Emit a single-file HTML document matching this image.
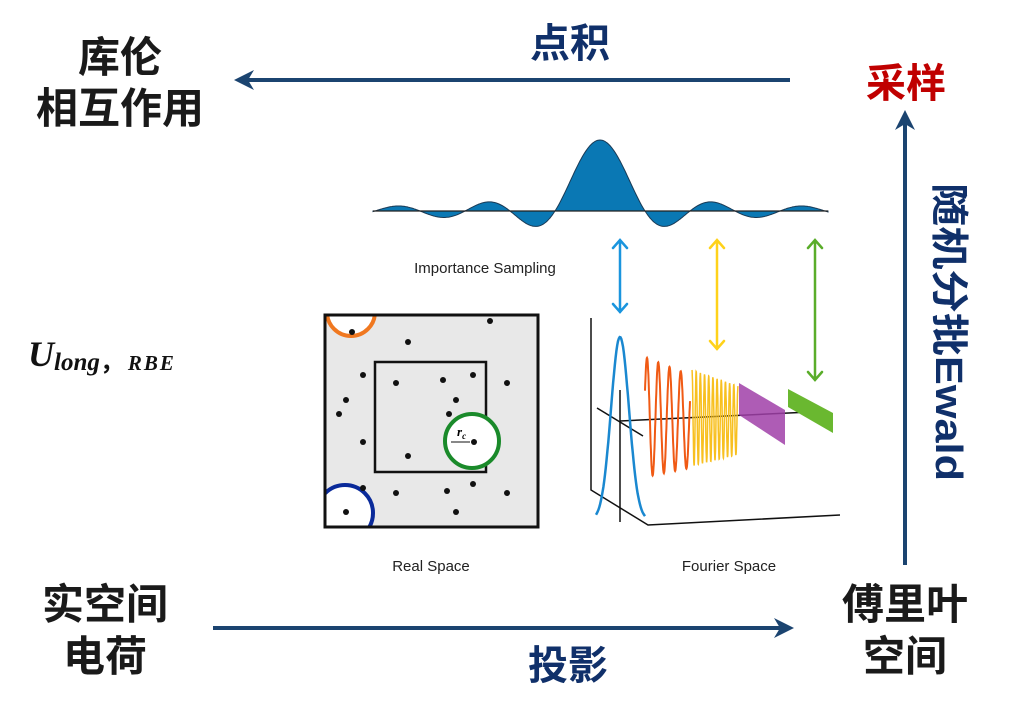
<!DOCTYPE html>
<html><head><meta charset="utf-8"><style>
html,body{margin:0;padding:0;background:#fff;}
svg{display:block}
.cjk{font-family:"Liberation Sans","Noto Sans CJK SC",sans-serif;font-weight:bold;}
.lab{font-family:"Liberation Sans","DejaVu Sans",sans-serif;font-size:15px;fill:#222;}
</style></head><body>
<svg id="s" width="1024" height="714" viewBox="0 0 1024 714" xmlns="http://www.w3.org/2000/svg">
<defs>
<marker id="ah" viewBox="0 0 10 10" refX="8" refY="5" markerWidth="5" markerHeight="5" orient="auto-start-reverse"><path d="M0,0 L10,5 L0,10 L3,5z" fill="#1b4470"/></marker>
<clipPath id="box"><rect x="325" y="315" width="213" height="212"/></clipPath>
</defs>
<text class="cjk" x="120" y="72" font-size="42" text-anchor="middle" fill="#1a1a1a">库伦</text>
<text class="cjk" x="120" y="123" font-size="42" text-anchor="middle" fill="#1a1a1a">相互作用</text>
<text class="cjk" x="570" y="57" font-size="40" text-anchor="middle" fill="#10306a">点积</text>
<text class="cjk" x="906" y="97" font-size="40" text-anchor="middle" fill="#c00000">采样</text>
<text class="cjk" x="105" y="619" font-size="42" text-anchor="middle" fill="#1a1a1a">实空间</text>
<text class="cjk" x="105" y="671" font-size="42" text-anchor="middle" fill="#1a1a1a">电荷</text>
<text class="cjk" x="568" y="679" font-size="40" text-anchor="middle" fill="#10306a">投影</text>
<text class="cjk" x="905" y="619" font-size="42" text-anchor="middle" fill="#1a1a1a">傅里叶</text>
<text class="cjk" x="905" y="671" font-size="42" text-anchor="middle" fill="#1a1a1a">空间</text>
<text class="cjk" transform="translate(936,183) rotate(90)" font-size="38" textLength="298" lengthAdjust="spacingAndGlyphs" fill="#10306a">随机分批Ewald</text>
<text x="28" y="366" font-family="Liberation Serif,serif" font-weight="bold" font-style="italic" fill="#111"><tspan font-size="36">U</tspan><tspan font-size="25" dy="4">long</tspan><tspan font-size="24" font-style="normal" font-family="Liberation Sans,Noto Sans CJK SC,sans-serif">，</tspan><tspan font-size="21" dx="4" letter-spacing="2">RBE</tspan></text>
<line x1="790" y1="80" x2="238" y2="80" stroke="#1b4470" stroke-width="4" marker-end="url(#ah)"/>
<line x1="213" y1="628" x2="790" y2="628" stroke="#1b4470" stroke-width="4" marker-end="url(#ah)"/>
<line x1="905" y1="565" x2="905" y2="114" stroke="#1b4470" stroke-width="4" marker-end="url(#ah)"/>
<path id="sinc" fill="#0a78b4" stroke="#1a3a55" stroke-width="1"/>
<line x1="373" y1="211" x2="828" y2="211" stroke="#222" stroke-width="1.2"/>
<text class="lab" x="485" y="273" text-anchor="middle">Importance Sampling</text>
<text class="lab" x="431" y="571" text-anchor="middle">Real Space</text>
<text class="lab" x="729" y="571" text-anchor="middle">Fourier Space</text>
<g fill="none" stroke-width="2.5" stroke-linecap="round">
<path d="M620,240 V312 M613,248 L620,240 L627,248 M613,304 L620,312 L627,304" stroke="#1a95de"/>
<path d="M717,240 V349 M710,248 L717,240 L724,248 M710,341 L717,349 L724,341" stroke="#ffd21a"/>
<path d="M815,240 V380 M808,248 L815,240 L822,248 M808,372 L815,380 L822,372" stroke="#5aad2a"/>
</g>
<rect x="325" y="315" width="213" height="212" fill="#e8e8e8"/>
<g clip-path="url(#box)">
<circle cx="351" cy="312" r="24" fill="#fff" stroke="#f07820" stroke-width="4"/>
<circle cx="345" cy="513" r="28" fill="#fff" stroke="#0a2a9a" stroke-width="4"/>
</g>
<rect x="325" y="315" width="213" height="212" fill="none" stroke="#111" stroke-width="3"/>
<rect x="375" y="362" width="111" height="110" fill="none" stroke="#111" stroke-width="2.5"/>
<circle cx="472" cy="441" r="27" fill="#fff" stroke="#1a8a2a" stroke-width="4"/>
<g id="dots" fill="#111"></g>
<line x1="451" y1="442" x2="470" y2="442" stroke="#111" stroke-width="1"/>
<text x="457" y="436" font-family="Liberation Serif,serif" font-style="italic" font-weight="bold" font-size="13">r<tspan font-size="9" dy="3">c</tspan></text>
<g fill="none" stroke="#111" stroke-width="1.5">
<path d="M591,318 V490 L648,525 L840,515"/>
<line x1="620" y1="390" x2="620" y2="522"/>
<line x1="597" y1="408" x2="643" y2="436"/>
<line x1="620" y1="421" x2="810" y2="412"/>
</g>
<path id="gauss" fill="none" stroke="#1a88d0" stroke-width="2.5"/>
<path id="orw" fill="none" stroke="#f05a14" stroke-width="2"/>
<path id="yw" fill="none" stroke="#f8c020" stroke-width="1.5"/>
<polygon points="739,383 785,410 785,445 739,415" fill="#a040a8" opacity="0.85"/>
<polygon points="788,389 833,413 833,433 788,407" fill="#6ab830"/>
</svg>
<script>
(function(){
var p="M373,211";
for(var x=373;x<=828;x+=1){var u=(x-600)/45;var s=u==0?1:Math.sin(Math.PI*u)/(Math.PI*u);p+=" L"+x+","+(211-71*s).toFixed(1);}
p+=" L828,211 Z";document.getElementById("sinc").setAttribute("d",p);
var gp="";for(var i=0;i<=60;i++){var x=596+i*(49/60);var t=(x-620)/9;var y=520-183*Math.exp(-t*t/2);gp+=(i?" L":"M")+x.toFixed(1)+","+y.toFixed(1);}
document.getElementById("gauss").setAttribute("d",gp);
var op="";for(var i=0;i<=200;i++){var x=645+i*45/200;var c=417+(x-645)*0.1;var a=60-(x-645)*0.3;var y=c-a*Math.cos((x-647)/45*4*2*Math.PI);op+=(i?" L":"M")+x.toFixed(1)+","+y.toFixed(1);}
document.getElementById("orw").setAttribute("d",op);
var yp="";for(var i=0;i<=400;i++){var x=692+i*46/400;var c=418+(x-692)*0.05;var a=48-(x-692)*0.3;var y=c-a*Math.cos((x-692)/46*11*2*Math.PI);yp+=(i?" L":"M")+x.toFixed(1)+","+y.toFixed(1);}
document.getElementById("yw").setAttribute("d",yp);
var d=[[490,321],[352,332],[408,342],[363,375],[396,383],[443,380],[473,375],[507,383],[346,400],[456,400],[339,414],[449,414],[363,442],[474,442],[408,456],[363,488],[396,493],[447,491],[473,484],[507,493],[346,512],[456,512]];
var h="";d.forEach(function(q){h+='<circle cx="'+q[0]+'" cy="'+q[1]+'" r="3"/>';});
document.getElementById("dots").innerHTML=h;
})();
</script>
</body></html>
